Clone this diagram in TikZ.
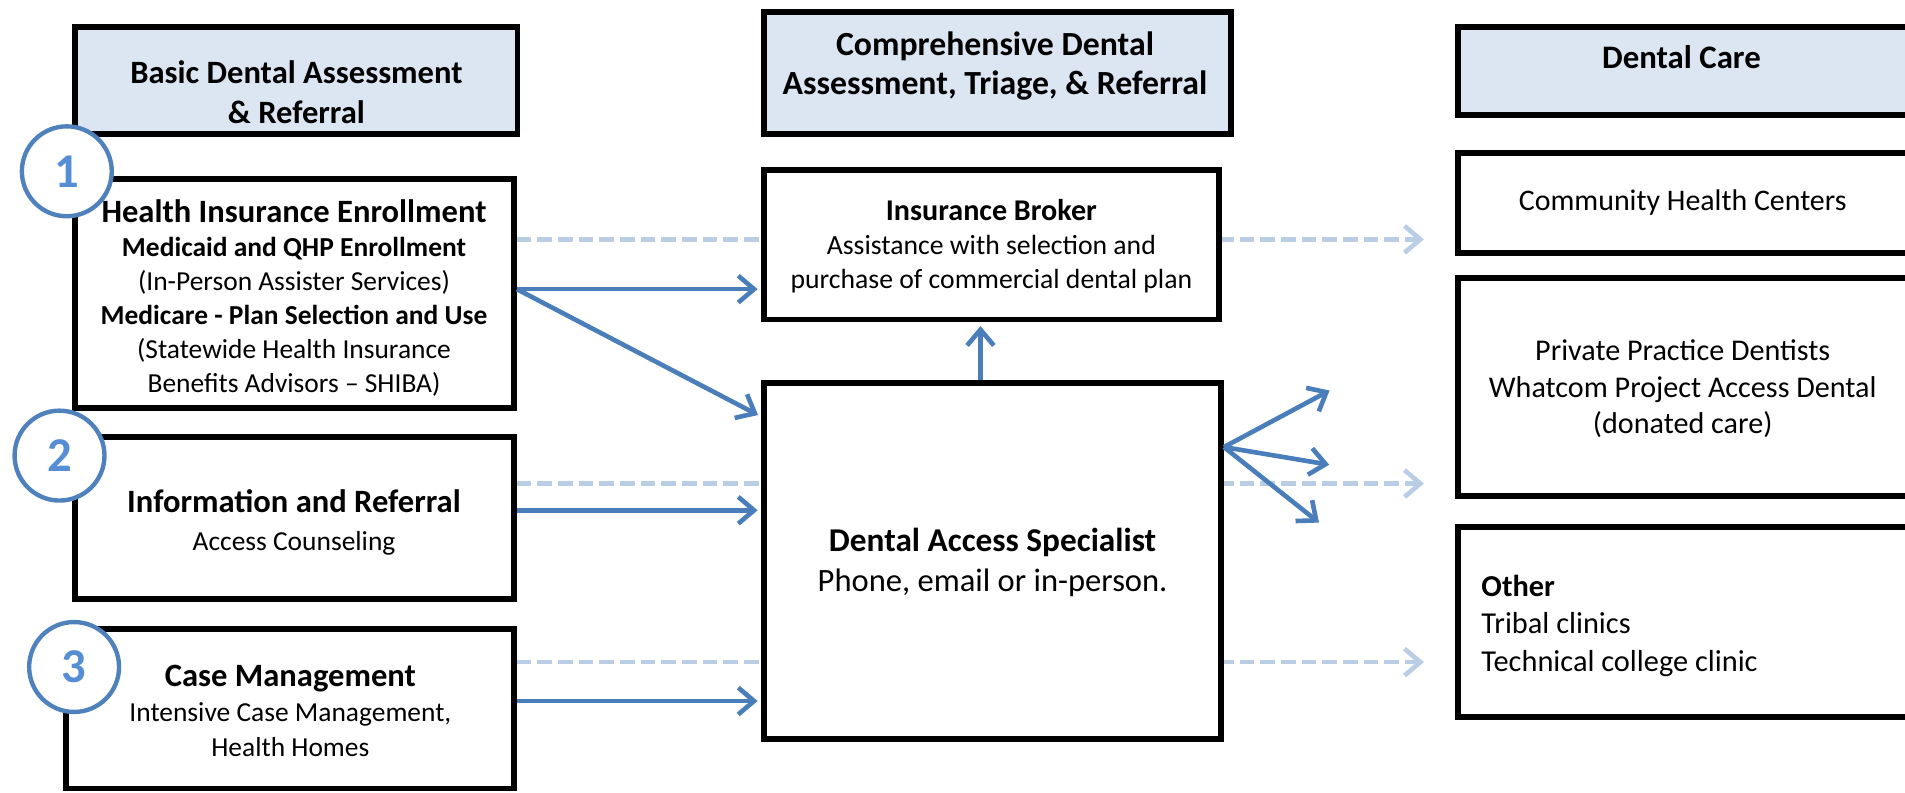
\documentclass[tikz,border=0pt]{standalone}
\usepackage{fontspec}
\setmainfont{Carlito}
\usetikzlibrary{arrows.meta,fit,backgrounds}
\definecolor{hdrfill}{HTML}{DCE6F2}
\definecolor{arrblue}{HTML}{4A7EBB}
\definecolor{dashblue}{HTML}{B9CDE5}
\definecolor{circblue}{HTML}{4F81BD}
\definecolor{numblue}{HTML}{558ED5}
\begin{document}
\begin{tikzpicture}[x=0.5pt,y=-0.5pt,
  box/.style={draw=black,line width=2.4pt,fill=white,inner sep=0pt},
  hdr/.style={box,fill=hdrfill},
  txt/.style={align=center,inner sep=0pt},
  num/.style={circle,draw=circblue,line width=1.8pt,fill=white,minimum size=37pt,inner sep=0pt,text=numblue,font=\fontsize{20}{20}\selectfont\bfseries},
  sol/.style={draw=arrblue,line width=1.9pt,-{Straight Barb[length=6.5pt,width=11pt]},shorten >=1.5pt},
  dsh/.style={draw=dashblue,line width=1.9pt,dash pattern=on 6pt off 2.5pt,-{Straight Barb[length=6.5pt,width=11pt]}}]
\useasboundingbox (0,0) rectangle (1568,652);
% boxes
\node[hdr,fit={(62,22) (426,110)}] (H1) {};
\node[hdr,fit={(629,10) (1013,110)}] (H2) {};
\node[hdr,fit={(1200,22) (1580,95)}] (H3) {};
\node[box,fit={(62,147) (423,336)}] (B1) {};
\node[box,fit={(62,360) (423,493)}] (B2) {};
\node[box,fit={(54,518) (423,649)}] (B3) {};
\node[box,fit={(629,140) (1003,263)}] (IB) {};
\node[box,fit={(629,315) (1005,608)}] (DAS) {};
\node[box,fit={(1200,126) (1580,208)}] (CHC) {};
\node[box,fit={(1200,229) (1580,408)}] (PPD) {};
\node[box,fit={(1200,434) (1580,590)}] (OTH) {};
% texts
\node[txt,font=\fontsize{13.4}{16.5}\selectfont\bfseries] (tH1) at (244,76) {Basic Dental Assessment\\\& Referral};
\node[txt,font=\fontsize{13.9}{16}\selectfont\bfseries] (tH2) at (819,54) {Comprehensive Dental\\Assessment, Triage, \& Referral};
\node[txt,font=\fontsize{13.5}{16}\selectfont\bfseries] (tH3) at (1384,47) {Dental Care};
\node[txt,font=\fontsize{11.3}{14}\selectfont] (tB1) at (242,245) {{\fontsize{13.4}{14}\selectfont\bfseries Health Insurance Enrollment}\\{\bfseries Medicaid and QHP Enrollment}\\(In-Person Assister Services)\\{\bfseries Medicare - Plan Selection and Use}\\(Statewide Health Insurance\\Benefits Advisors – SHIBA)};
\node[txt,font=\fontsize{11.3}{15.5}\selectfont] (tB2) at (242,430) {{\fontsize{13.4}{15.5}\selectfont\bfseries Information and Referral}\\Access Counseling};
\node[txt,font=\fontsize{11.3}{14.4}\selectfont] (tB3) at (239,585) {{\fontsize{13.4}{14.4}\selectfont\bfseries Case Management}\\Intensive Case Management,\\Health Homes};
\node[txt,font=\fontsize{11.4}{14}\selectfont] (tIB) at (816,203) {{\fontsize{12.4}{14}\selectfont\bfseries Insurance Broker}\\Assistance with selection and\\purchase of commercial dental plan};
\node[txt,font=\fontsize{13.4}{16.5}\selectfont] (tDAS) at (817,463) {{\fontsize{13.7}{16.5}\selectfont\bfseries Dental Access Specialist}\\Phone, email or in-person.};
\node[txt,font=\fontsize{12.3}{15}\selectfont] (tCHC) at (1385,167) {Community Health Centers};
\node[txt,font=\fontsize{12.4}{15}\selectfont] (tPPD) at (1385,320) {Private Practice Dentists\\Whatcom Project Access Dental\\(donated care)};
\node[align=left,inner sep=0pt,anchor=west,font=\fontsize{12.5}{15.5}\selectfont] (tOTH) at (1219,515) {{\bfseries Other}\\Tribal clinics\\Technical college clinic};
% helper coordinates
\coordinate (r238) at (0,238);
\coordinate (r343) at (0,343);
\coordinate (r420) at (0,420);
\coordinate (r577) at (0,577);
\coordinate (r368) at (0,368);
\coordinate (c807) at (807,0);
\coordinate (f1) at (1097,320);
\coordinate (f2) at (1097,383);
\coordinate (f3) at (1088,432);
\coordinate (e1) at (1172,197);
\coordinate (e2) at (1172,398);
\coordinate (e3) at (1172,545);
% dashed connectors behind boxes
\begin{scope}[on background layer]
\draw[dsh] (B1.east |- e1) -- (e1);
\draw[dsh] (B2.east |- e2) -- (e2);
\draw[dsh] (B3.east |- e3) -- (e3);
\end{scope}
% solid connectors
\draw[sol] (B1.east |- r238) -- (IB.west |- r238);
\draw[sol] (B1.east |- r238) -- (DAS.west |- r343);
\draw[sol] (B2.east |- r420) -- (DAS.west |- r420);
\draw[sol] (B3.east |- r577) -- (DAS.west |- r577);
\draw[sol] (DAS.north -| c807) -- (IB.south -| c807);
\draw[sol] (DAS.east |- r368) -- (f1);
\draw[sol] (DAS.east |- r368) -- (f2);
\draw[sol] (DAS.east |- r368) -- (f3);
% numbered circles
\node[num] (C1) at (55,141) {1};
\node[num] (C2) at (49,375) {2};
\node[num] (C3) at (61,549) {3};
\end{tikzpicture}
\end{document}
